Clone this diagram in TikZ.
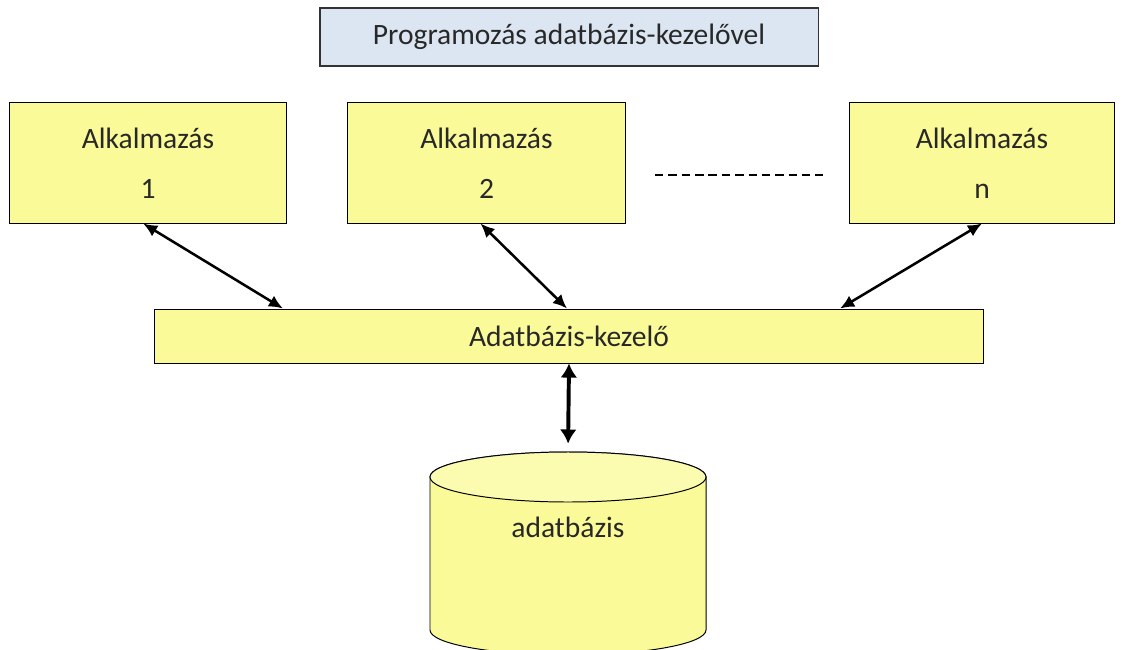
\documentclass[tikz,border=0pt]{standalone}
\usepackage{fontspec}
\setmainfont{Carlito}
\usepackage{xcolor}
\usepackage{tikz}
\usetikzlibrary{arrows.meta}

\definecolor{boxyellow}{RGB}{250,250,152}
\definecolor{topyellow}{RGB}{252,252,176}
\definecolor{titleblue}{RGB}{220,230,242}
\definecolor{txtgray}{RGB}{40,40,40}

\tikzset{
  appbox/.style={draw=black, line width=0.7pt, fill=boxyellow, align=center,
    minimum height=3cm, text=txtgray, font=\fontsize{21}{25}\selectfont},
  link/.style={line width=1.8pt, {Latex[length=10pt,width=9pt]}-{Latex[length=10pt,width=9pt]}}
}

\begin{document}
\begin{tikzpicture}[x=0.025cm, y=0.025cm]
  \useasboundingbox (0,0) rectangle (1123,-650);

  % title
  \node (T) at (569,-37) [draw=black!80, line width=0.8pt, fill=titleblue,
    minimum width=12.45cm, minimum height=1.45cm, text=txtgray,
    font=\fontsize{21}{25}\selectfont] {Programozás adatbázis-kezelővel};

  % the applications
  \node[appbox, minimum width=6.9cm] (A) at (148,-163) {Alkalmazás\\[10.5pt]1};
  \node[appbox, minimum width=6.925cm] (B) at (486.5,-163) {Alkalmazás\\[10.5pt]2};
  \node[appbox, minimum width=6.6cm] (C) at (982,-163) {Alkalmazás\\[10.5pt]n};
  \coordinate (d1) at (655,-175);
  \coordinate (d2) at (823,-175);
  \draw[line width=1.4pt, dash pattern=on 6pt off 3.5pt] (d1) -- (d2);

  % database manager
  \node (M) at (569,-336) [draw=black, line width=0.7pt, fill=boxyellow,
    minimum width=20.7cm, minimum height=1.35cm, text=txtgray,
    font=\fontsize{21}{25}\selectfont] {Adatbázis-kezelő};

  % database cylinder
  \draw[line width=0.7pt, fill=boxyellow] (430,-477) -- (430,-630)
    arc[start angle=180, end angle=360, x radius=138, y radius=25]
    -- (706,-477) arc[start angle=0, end angle=180, x radius=138, y radius=25] -- cycle;
  \draw[line width=0.7pt, fill=topyellow] (568,-477) ellipse [x radius=138, y radius=25];
  \coordinate (db) at (568,-452);
  \node (D) at (568,-527) [text=txtgray, font=\fontsize{21}{25}\selectfont] {adatbázis};

  \draw[link] ([xshift=-0.12cm]A.south) -- ([xshift=-7.15cm]M.north);
  \draw[link] ([xshift=-0.15cm]B.south) -- ([xshift=-0.05cm]M.north);
  \draw[link] (C.south) -- ([xshift=6.775cm]M.north);
  \draw[line width=2.8pt, shorten >=6pt,
    {Latex[length=10pt,width=12pt]}-{Latex[length=10pt,width=12pt]}] (M.south) -- (db);
\end{tikzpicture}
\end{document}
